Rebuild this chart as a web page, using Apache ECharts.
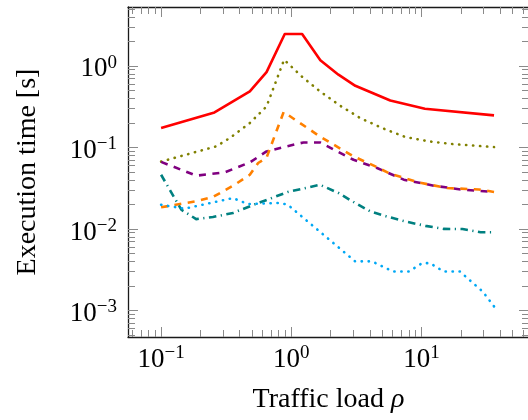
<!DOCTYPE html>
<html>
<head>
<meta charset="utf-8">
<script src="https://cdn.jsdelivr.net/npm/echarts@6/dist/echarts.min.js"></script>
<style>
html,body{margin:0;padding:0;background:#fff;}
#c{width:528px;height:420px;}
</style>
</head>
<body>
<div id="c"></div>
<script>
// ---- data (x = traffic load rho, y = execution time [s]) ----
const redPts = [[0.1,0.173],[0.257,0.269],[0.48,0.486],[0.645,0.84],[0.89,2.46],[1.21,2.46],[1.67,1.17],[2.3,0.78],[3.1,0.57],[5.75,0.377],[10.6,0.298],[36,0.247]];
const olivePts = [[0.1,0.067],[0.265,0.103],[0.336,0.13],[0.48,0.199],[0.645,0.318],[0.88,1.19],[1.2,0.743],[1.66,0.487],[2.37,0.325],[3.38,0.229],[4.97,0.173],[7.51,0.134],[11.4,0.1185],[17.2,0.11],[26,0.105],[36,0.101]];
const purplePts = [[0.1,0.0664],[0.186,0.045],[0.307,0.0493],[0.48,0.0655],[0.645,0.0893],[0.92,0.103],[1.24,0.115],[1.66,0.115],[3.0,0.0706],[4.55,0.0559],[7.3,0.0402],[12.4,0.0339],[20.6,0.0303],[36,0.0284]];
const orangePts = [[0.1,0.0184],[0.181,0.0217],[0.25,0.0246],[0.367,0.0348],[0.48,0.0462],[0.556,0.0644],[0.645,0.0748],[0.873,0.272],[1.66,0.136],[3.0,0.0776],[4.42,0.0585],[5.75,0.0475],[9.5,0.0372],[15.7,0.0317],[27.5,0.0305],[36,0.0284]];
const tealPts = [[0.1,0.0462],[0.143,0.0172],[0.186,0.0132],[0.25,0.014],[0.356,0.0157],[0.494,0.0193],[0.94,0.0284],[1.66,0.0348],[2.3,0.0276],[3.0,0.0214],[4.04,0.0164],[5.58,0.014],[7.74,0.0122],[10.7,0.0109],[14.8,0.0100],[20.6,0.00997],[28.4,0.0091],[36,0.0091]];
const bluePts = [[0.1,0.0198],[0.151,0.0177],[0.356,0.0239],[0.465,0.0202],[0.816,0.0208],[0.94,0.0198],[3.09,0.004],[4.16,0.004],[6.04,0.003],[7.96,0.003],[10.1,0.0038],[11.6,0.0038],[14.8,0.003],[19.7,0.003],[29.5,0.0017],[36,0.00112]];

// ---- axes ----
const xMin = 0.0557, xMax = 66.8;
const yMin = 0.000472, yMax = 5.28;
const xMajorTicks = [0.1, 1, 10];
const xMinorTicks = [0.06,0.07,0.08,0.09,0.2,0.3,0.4,0.5,0.6,0.7,0.8,0.9,2,3,4,5,6,7,8,9,20,30,40,50,60];
const yMajorTicks = [0.001, 0.01, 0.1, 1];
const yMinorTicks = [0.0005,0.0006,0.0007,0.0008,0.0009,0.002,0.003,0.004,0.005,0.006,0.007,0.008,0.009,0.02,0.03,0.04,0.05,0.06,0.07,0.08,0.09,0.2,0.3,0.4,0.5,0.6,0.7,0.8,0.9,2,3,4,5];
const xTitle = 'Traffic load ';
const xTitleSym = 'ρ';
const yTitle = 'Execution time [s]';

const FONT = 'Liberation Serif';
const TICK = '#8a8a8a';
const FRAME = '#1a1a1a';

function expLabel(v) {
  const e = Math.round(Math.log10(v));
  const s = e < 0 ? '\u2212' + (-e) : String(e);
  return '{b|10}{s|' + s + '}';
}
const richExp = {
  b: {fontFamily: FONT, fontSize: 27, lineHeight: 32, color: '#000', verticalAlign: 'middle'},
  s: {fontFamily: FONT, fontSize: 19, lineHeight: 18, color: '#000', verticalAlign: 'top'}
};

function mkAxis(kind, pos, major, withLabels, withLine, extra) {
  const isX = kind === 'x';
  const a = {
    type: 'log',
    logBase: 10,
    position: pos,
    min: isX ? xMin : yMin,
    max: isX ? xMax : yMax,
    gridIndex: 0,
    splitLine: {show: false},
    minorTick: {show: false},
    minorSplitLine: {show: false},
    axisLine: {show: withLine, onZero: false, lineStyle: {color: FRAME, width: 1.3}},
    axisTick: {
      show: true, inside: true,
      length: major ? 10 : 7,
      customValues: isX ? (major ? xMajorTicks : xMinorTicks) : (major ? yMajorTicks : yMinorTicks),
      lineStyle: {color: TICK, width: 1}
    },
    axisLabel: {show: false},
    axisPointer: {show: false},
    silent: true
  };
  if (withLabels) {
    a.axisLabel = {
      show: true,
      customValues: isX ? xMajorTicks : yMajorTicks,
      formatter: expLabel,
      rich: richExp,
      margin: isX ? 7 : 11,
      padding: isX ? [0,0,0,0] : [7,0,0,0]
    };
  }
  return Object.assign(a, extra || {});
}

const xAxes = [
  mkAxis('x', 'bottom', true, true, true, {
    name: '{a|' + xTitle + '}{i|' + xTitleSym + '}',
    nameLocation: 'middle', nameGap: 49,
    nameTextStyle: {rich: {
      a: {fontFamily: FONT, fontSize: 28, color: '#000'},
      i: {fontFamily: FONT, fontSize: 28, fontStyle: 'italic', color: '#000'}
    }}
  }),
  mkAxis('x', 'bottom', false, false, false),
  mkAxis('x', 'top', true, false, true),
  mkAxis('x', 'top', false, false, false)
];
const yAxes = [
  mkAxis('y', 'left', true, true, true, {
    name: yTitle, nameLocation: 'middle', nameGap: 86, nameRotate: 90,
    nameTextStyle: {fontFamily: FONT, fontSize: 28, color: '#000'}
  }),
  mkAxis('y', 'left', false, false, false),
  mkAxis('y', 'right', true, false, true),
  mkAxis('y', 'right', false, false, false)
];

function line(name, data, color, type, cap, z) {
  return {
    name: name, type: 'line', data: data, xAxisIndex: 0, yAxisIndex: 0,
    showSymbol: false, symbol: 'none', smooth: false, z: z,
    lineStyle: {color: color, width: 2.6, type: type, cap: cap, join: 'round'},
    emphasis: {disabled: true}, animation: false
  };
}

const chart = echarts.init(document.getElementById('c'), null, {renderer: 'canvas'});
chart.setOption({
  animation: false,
  backgroundColor: '#fff',
  grid: {left: 128, top: 7, right: -1, bottom: 83, containLabel: false, outerBoundsMode: 'none'},
  xAxis: xAxes,
  yAxis: yAxes,
  series: [
    line('red', redPts, '#ff0000', 'solid', 'butt', 2),
    line('olive', olivePts, '#808000', [0.3, 6.7], 'round', 3),
    line('purple', purplePts, '#800080', [7, 6.5], 'butt', 4),
    line('orange', orangePts, '#ff8000', [7, 6.5], 'butt', 5),
    line('teal', tealPts, '#008080', [7.5, 4.5, 1.2, 4.5], 'butt', 6),
    line('blue', bluePts, '#00a8f5', [0.3, 6.7], 'round', 7)
  ]
});
</script>
</body>
</html>
